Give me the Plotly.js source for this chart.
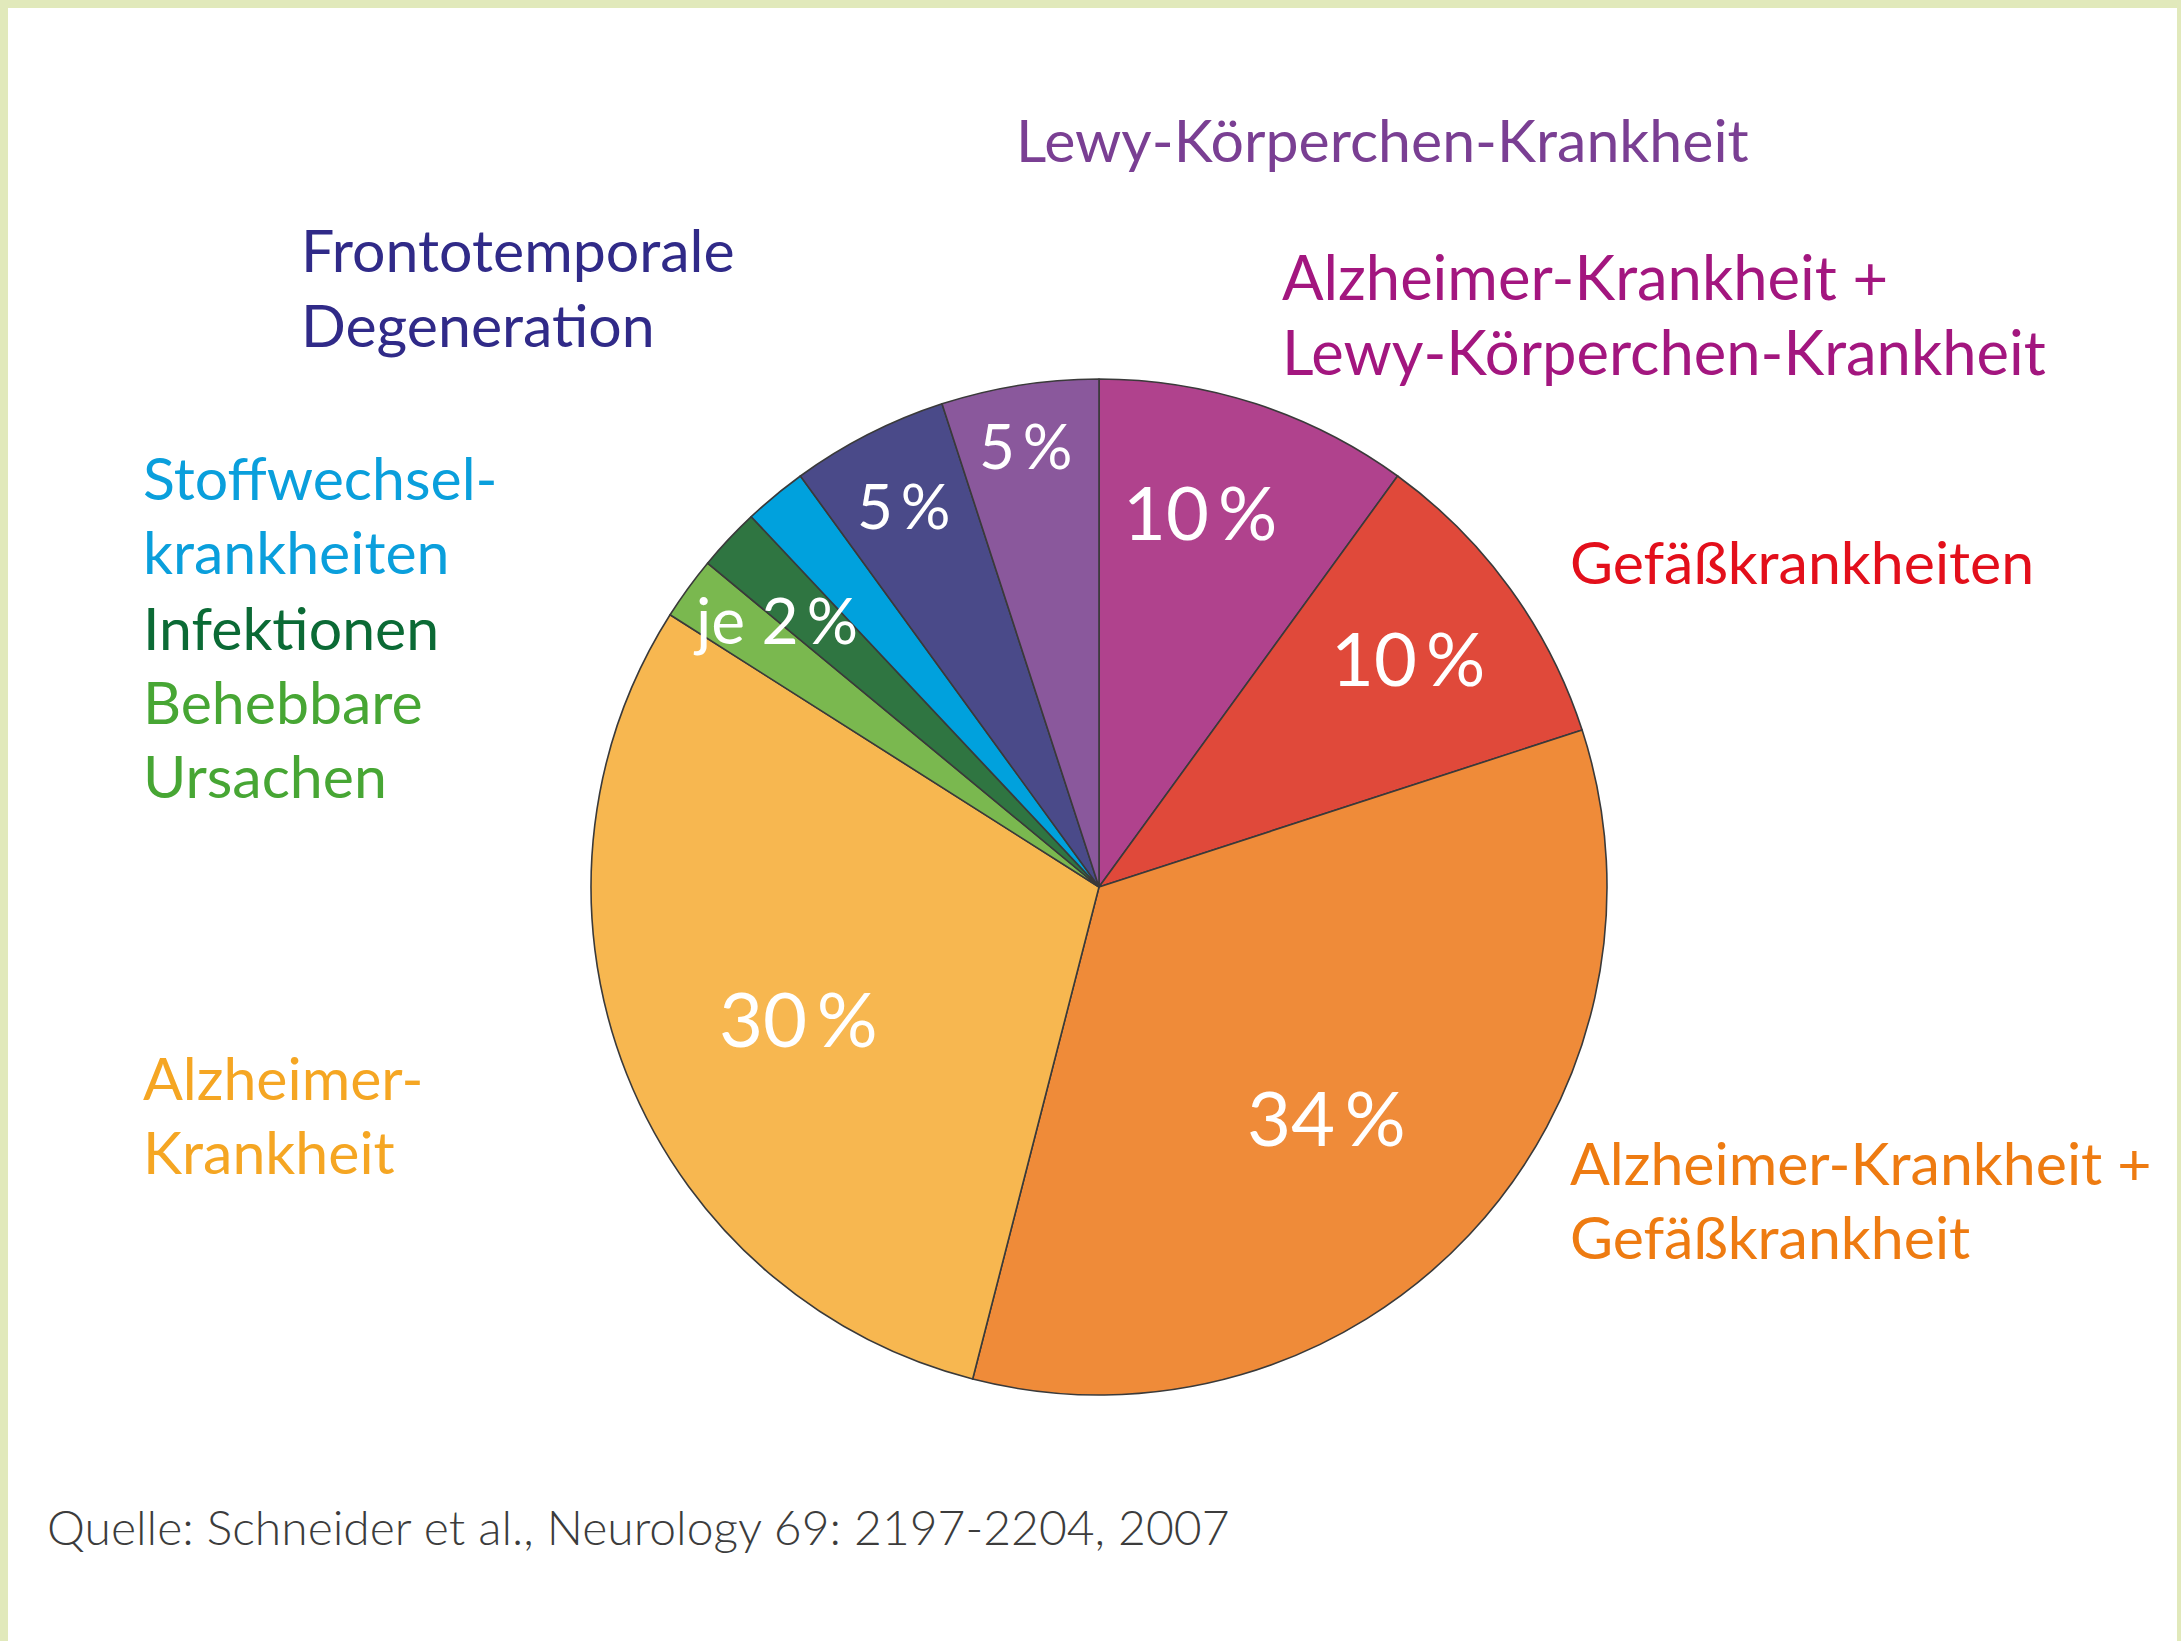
<!DOCTYPE html>
<html>
<head>
<meta charset="utf-8">
<script src="https://cdn.plot.ly/plotly-3.0.1.min.js"></script>
<style>
  html, body { margin: 0; padding: 0; background: #ffffff; }
  #chart { width: 2181px; height: 1641px; }
</style>
</head>
<body>
<div id="chart"></div>
<script>
// ---- data ----
const categories = [
  "Alzheimer-Krankheit + Lewy-Körperchen-Krankheit",
  "Gefäßkrankheiten",
  "Alzheimer-Krankheit + Gefäßkrankheit",
  "Alzheimer-Krankheit",
  "Behebbare Ursachen",
  "Infektionen",
  "Stoffwechselkrankheiten",
  "Frontotemporale Degeneration",
  "Lewy-Körperchen-Krankheit"
];
const values = [10, 10, 34, 30, 2, 2, 2, 5, 5];
const sliceColors = ["#b0428d", "#e0493a", "#ef8b39", "#f7b750", "#7ab84f",
                     "#2f7541", "#00a1dd", "#4a4a89", "#8a589c"];
const textColors = ["#a3167f", "#e30f1b", "#ee7b11", "#f5a623", "#47a634",
                    "#0b6a35", "#0a9fdc", "#302a88", "#7a3f93"];
const labelLines = [
  ["Alzheimer-Krankheit +", "Lewy-Körperchen-Krankheit"],
  ["Gefäßkrankheiten"],
  ["Alzheimer-Krankheit +", "Gefäßkrankheit"],
  ["Alzheimer-", "Krankheit"],
  ["Behebbare", "Ursachen"],
  ["Infektionen"],
  ["Stoffwechsel-", "krankheiten"],
  ["Frontotemporale", "Degeneration"],
  ["Lewy-Körperchen-Krankheit"]
];
const sourceText = "Quelle: Schneider et al., Neurology 69: 2197-2204, 2007";

// ---- layout helpers ----
const W = 2181, H = 1641;
const px = x => x / W;
const py = y => 1 - y / H;
const FONT = "Lato, 'Open Sans', sans-serif";

// label anchor positions (pixels: left x, first-line center y)
const labelPos = [
  [1280, 276], [1568, 561], [1568, 1162], [141, 1077], [141, 701],
  [141, 627], [141, 477], [299, 250], [1014, 140]
];
const labelSize = [61.5, 59, 59, 59, 59, 59, 59, 59, 59];
const lineGap = 74.5;

// percentage label positions (pixel centers); small 2% slices share one label
const pctPos = [[1200, 512], [1408, 657], [1326, 1116], [798, 1017], null, null, null, [903, 505], [1025, 445]];
const pctSize = [74, 74, 76, 76, 0, 0, 0, 62, 62];

const annotations = [];
labelLines.forEach((lines, i) => {
  lines.forEach((t, j) => {
    annotations.push({
      text: t, xref: "paper", yref: "paper",
      x: px(labelPos[i][0]), y: py(labelPos[i][1] + j * lineGap),
      xanchor: "left", yanchor: "middle", showarrow: false,
      font: { family: FONT, size: labelSize[i], color: textColors[i] }
    });
  });
});
values.forEach((v, i) => {
  if (!pctPos[i]) return;
  annotations.push({
    text: v + "\u2009%", xref: "paper", yref: "paper",
    x: px(pctPos[i][0]), y: py(pctPos[i][1]),
    xanchor: "center", yanchor: "middle", showarrow: false,
    font: { family: FONT, size: pctSize[i], color: "#ffffff" }
  });
});
// shared label for the three 2 % slices
annotations.push({
  text: "je " + values[4] + "\u2009%", xref: "paper", yref: "paper",
  x: px(775), y: py(619), xanchor: "center", yanchor: "middle", showarrow: false,
  font: { family: FONT, size: 64, color: "#ffffff" }
});
annotations.push({
  text: sourceText, xref: "paper", yref: "paper",
  x: px(45), y: py(1526), xanchor: "left", yanchor: "middle", showarrow: false,
  font: { family: FONT, size: 48, color: "#3c3c3c", weight: 300 }
});

const cx = 1099, cy = 887, r = 508;
const trace = {
  type: "pie",
  labels: categories,
  values: values,
  sort: false,
  direction: "clockwise",
  rotation: 0,
  textinfo: "none",
  hoverinfo: "label+value",
  marker: { colors: sliceColors, line: { color: "#3a3a3a", width: 1.6 } },
  domain: { x: [px(cx - r), px(cx + r)], y: [py(cy + r), py(cy - r)] },
  showlegend: false
};

const border = "#e1e9bb";
const layout = {
  width: W, height: H,
  margin: { l: 0, r: 0, t: 0, b: 0 },
  paper_bgcolor: "#ffffff",
  showlegend: false,
  annotations: annotations,
  shapes: [
    { type: "rect", xref: "paper", yref: "paper", x0: 0, x1: px(8), y0: 0, y1: 1, fillcolor: border, line: { width: 0 }, layer: "below" },
    { type: "rect", xref: "paper", yref: "paper", x0: 0, x1: 1, y0: py(8), y1: 1, fillcolor: border, line: { width: 0 }, layer: "below" },
    { type: "rect", xref: "paper", yref: "paper", x0: px(2177), x1: 1, y0: 0, y1: 1, fillcolor: border, line: { width: 0 }, layer: "below" }
  ]
};

Plotly.newPlot("chart", [trace], layout, { staticPlot: true });
</script>
</body>
</html>
